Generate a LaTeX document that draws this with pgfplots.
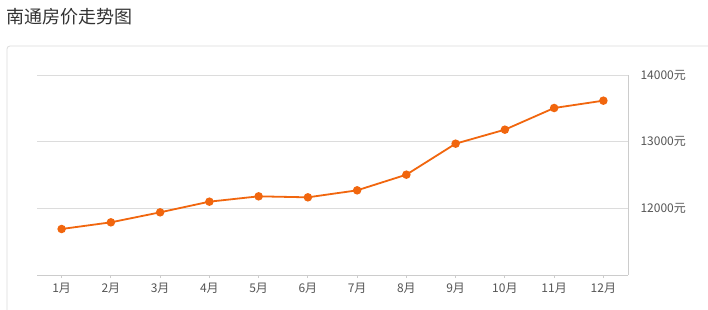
\documentclass[border=0pt]{standalone}
\usepackage{pgfplots}
\pgfplotsset{compat=1.18}
\usepackage{fontspec}
\setmainfont{Noto Sans CJK SC}
\definecolor{lineor}{HTML}{F1660E}
\definecolor{gridc}{HTML}{DCDCDC}
\definecolor{axc}{HTML}{CCCCCC}
\definecolor{txt}{HTML}{555555}
\definecolor{ttl}{HTML}{333333}
\begin{document}
\begin{tikzpicture}
\useasboundingbox (0bp,0bp) rectangle (708bp,310bp);
\fill[white] (0bp,0bp) rectangle (708bp,310bp);
\draw[gridc, line width=0.8bp, rounded corners=3bp] (7bp,-10bp) rectangle (720bp,264bp);
\node[anchor=west, text=ttl, font=\fontsize{18bp}{21bp}\selectfont, inner sep=0pt] at (6bp,293bp) {南通房价走势图};
\begin{axis}[
  at={(37bp,35bp)}, anchor=south west,
  scale only axis, width=591bp, height=200bp,
  xmin=0.5, xmax=12.5, ymin=11000, ymax=14000,
  axis x line*=bottom, axis y line*=right,
  axis line style={draw=axc, line width=0.8bp, -},
  xtick={1,...,12},
  xticklabels={1月,2月,3月,4月,5月,6月,7月,8月,9月,10月,11月,12月},
  ytick={12000,13000,14000},
  scaled y ticks=false,
  yticklabel={\pgfmathprintnumber[fixed,precision=0]{\tick}元},
  /pgf/number format/set thousands separator={},
  /pgf/number format/assume math mode=true,
  ymajorgrids, major grid style={draw=gridc, line width=0.8bp},
  tick align=outside, major tick length=3bp,
  xtick style={draw=axc, line width=0.8bp},
  ytick style={draw=none},
  ticklabel style={font=\fontsize{12bp}{14bp}\selectfont, text=txt},
  xticklabel style={yshift=-2bp},
  yticklabel style={xshift=6bp},
  clip=false,
]
\addplot[color=lineor, line width=1.8bp, mark=*, mark size=3.3bp, mark options={fill=lineor, draw=lineor}]
coordinates {(1,11690) (2,11790) (3,11940) (4,12100) (5,12180) (6,12165) (7,12270) (8,12505) (9,12970) (10,13180) (11,13505) (12,13615)};
\end{axis}
\end{tikzpicture}
\end{document}
